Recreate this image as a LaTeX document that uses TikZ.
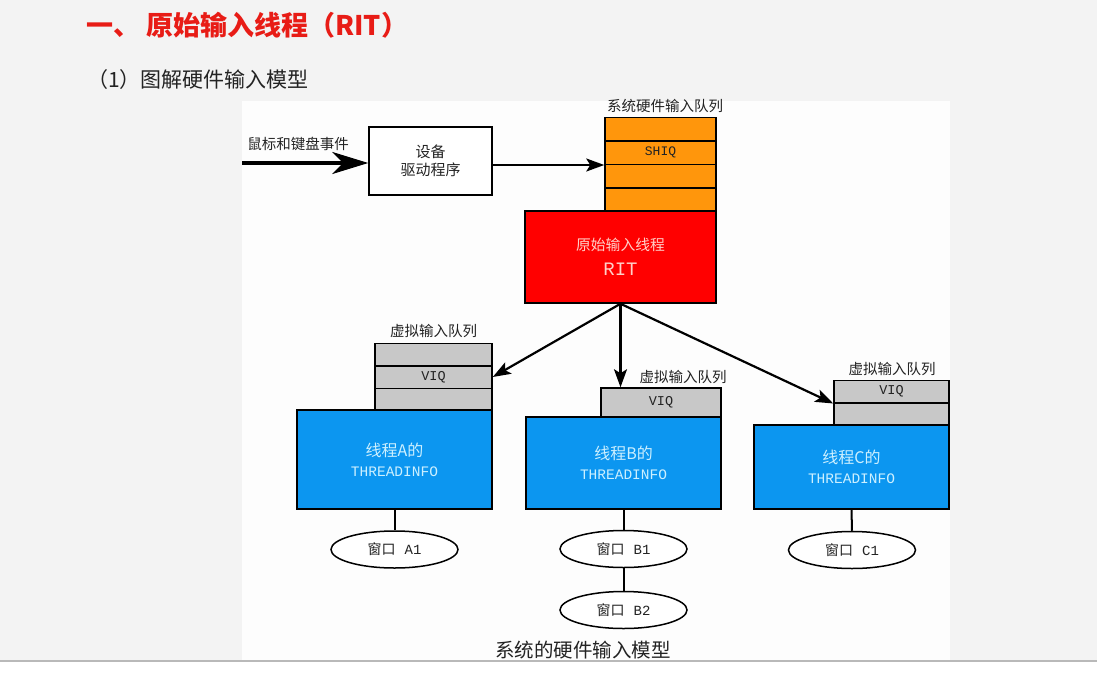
\documentclass[tikz,border=0pt]{standalone}
\usepackage{fontspec}
\setmainfont{Liberation Serif}
\newfontfamily\cjk{Noto Sans CJK SC}
\newfontfamily\mono{Liberation Mono}
\usetikzlibrary{arrows.meta,shapes.geometric,calc}

\definecolor{slidebg}{RGB}{243,243,243}
\definecolor{panelbg}{RGB}{253,253,253}
\definecolor{titlered}{RGB}{232,28,22}
\definecolor{shiqorange}{RGB}{255,150,12}
\definecolor{ritred}{RGB}{255,0,0}
\definecolor{ritlabel}{RGB}{255,208,200}
\definecolor{tiblue}{RGB}{12,150,240}
\definecolor{tilabel}{RGB}{205,240,255}
\definecolor{viqgray}{RGB}{200,200,200}
\definecolor{inkdark}{RGB}{35,35,35}

\tikzset{
  box/.style={draw=black,line width=1.5pt,inner sep=0pt,align=center},
  shiqcell/.style={box,fill=shiqorange,minimum width=111pt,minimum height=23.5pt,
    text=inkdark,font=\mono\fontsize{13}{15}\selectfont},
  viqcell/.style={box,fill=viqgray,minimum height=22.5pt,
    text=inkdark,font=\mono\fontsize{13.5}{15}\selectfont},
  threadbox/.style={box,fill=tiblue,minimum width=195pt,text=tilabel,
    font=\cjk\fontsize{16}{20}\selectfont},
  qlabel/.style={inner sep=0pt,text=inkdark,font=\cjk\fontsize{14.5}{16}\selectfont},
  winnode/.style={ellipse,draw=black,line width=1.5pt,fill=white,inner sep=0pt,
    minimum width=127pt,minimum height=37pt,text=inkdark,
    font=\cjk\fontsize{14}{16}\selectfont},
  flow/.style={line width=2.2pt,-{Stealth[length=18pt,width=13pt,inset=4pt]}},
  link/.style={line width=2pt},
}

\newcommand{\tinfo}[1]{#1\\{\mono\fontsize{14.5}{20}\selectfont THREADINFO}}
\newcommand{\winlabel}[1]{窗口\hspace{9pt}{\mono #1}}

\begin{document}
\begin{tikzpicture}[x=1pt,y=-1pt]
\useasboundingbox (0,0) rectangle (1097,677);

% slide background and the white diagram panel
\fill[slidebg] (0,0) rectangle (1097,677);
\fill[panelbg] (242,101) rectangle (950,661);
\fill[white] (0,661) rectangle (1097,677);
\draw[line width=1.5pt,gray!55] (0,661) -- (1097,661);

% headings
\node[anchor=west,inner sep=0pt,text=titlered,font=\cjk\bfseries\fontsize{27}{30}\selectfont]
  (title) at (86,25) {一、\hspace{6pt}原始输入线程（RIT）};
\node[anchor=west,inner sep=0pt,text=inkdark,font=\cjk\fontsize{21}{24}\selectfont]
  (subtitle) at (87,80) {（1）图解硬件输入模型};

% input source and device driver
\coordinate (src) at (242,163);
\node[qlabel] (srclabel) at (298,144) {鼠标和键盘事件};
\node[box,fill=white,minimum width=123pt,minimum height=68pt,
  font=\cjk\fontsize{15}{18}\selectfont,text=inkdark] (drv) at (430.5,161) {设备\\驱动程序};

% system hardware input queue
\node[qlabel] (shiqlabel) at (665,106) {系统硬件输入队列};
\node[shiqcell] (s1) at (660.5,129) {};
\node[shiqcell] (s2) at (660.5,152.5) {SHIQ};
\node[shiqcell] (s3) at (660.5,176) {};
\node[shiqcell] (s4) at (660.5,199.5) {};

% raw input thread
\node[box,fill=ritred,minimum width=191pt,minimum height=92pt,text=ritlabel,
  font=\cjk\fontsize{14.8}{25}\selectfont] (rit) at (620.5,257)
  {原始输入线程\\{\mono\fontsize{19}{25}\selectfont RIT}};

% thread A
\node[qlabel] (valabel) at (433.5,331) {虚拟输入队列};
\node[viqcell,minimum width=117pt] (va1) at (433.5,354.5) {};
\node[viqcell,minimum width=117pt] (va2) at (433.5,377) {VIQ};
\node[viqcell,minimum width=117pt] (va3) at (433.5,399.5) {};
\node[threadbox,minimum height=99pt] (ta) at (394.5,459.5) {\tinfo{线程A的}};
\node[winnode] (a1) at (394.5,549.5) {\winlabel{A1}};

% thread B
\node[qlabel] (vblabel) at (683,377) {虚拟输入队列};
\node[viqcell,minimum width=120pt,minimum height=29pt] (vb1) at (661,402.5) {VIQ};
\node[threadbox,minimum height=92pt] (tb) at (623.5,463) {\tinfo{线程B的}};
\node[winnode] (b1) at (623.5,549) {\winlabel{B1}};
\node[winnode] (b2) at (623.5,610) {\winlabel{B2}};

% thread C
\node[qlabel] (vclabel) at (892,369) {虚拟输入队列};
\node[viqcell,minimum width=115pt] (vc1) at (891.5,391.5) {VIQ};
\node[viqcell,minimum width=115pt] (vc2) at (891.5,414) {};
\node[threadbox,minimum height=84pt] (tc) at (851.5,467) {\tinfo{线程C的}};
\node[winnode] (c1) at (852,550) {\winlabel{C1}};

% caption
\node[inner sep=0pt,text=inkdark,font=\cjk\fontsize{19.5}{22}\selectfont]
  (caption) at (583,650) {系统的硬件输入模型};

% connectors
\draw[line width=3.2pt,-{Stealth[length=36pt,width=22pt,inset=11pt]}] (src) -- (drv.west |- src);
\draw[flow] (drv.east |- s2.south) -- (s2.south west);
\draw[flow] (rit.south) -- (va2.east);
\draw[flow] (rit.south) -- (rit.south |- vb1.north);
\draw[flow] (rit.south) -- (vc1.south west);
\draw[link] (ta.south) -- (a1.north);
\draw[link] (tb.south) -- (b1.north);
\draw[link] (b1.south) -- (b2.north);
\draw[link] (tc.south) -- (c1.north);
\end{tikzpicture}
\end{document}
